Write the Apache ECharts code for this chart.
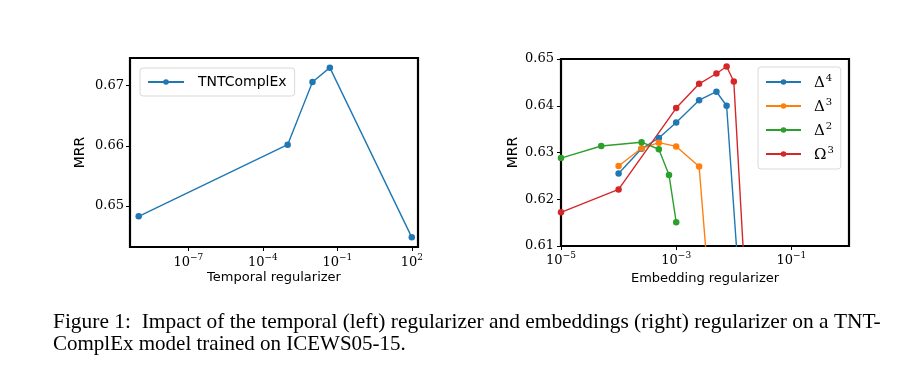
<!DOCTYPE html>
<html>
<head>
<meta charset="utf-8">
<script src="https://cdn.jsdelivr.net/npm/echarts@6/dist/echarts.min.js"></script>
<style>
  html, body { margin: 0; padding: 0; background: #fff; }
  #main { width: 923px; height: 381px; }
</style>
</head>
<body>
<div id="main"></div>
<script>
// left panel: temporal regularizer sweep
var tempReg = [1e-9, 1e-3, 1e-2, 5e-2, 1e2];
var tempMRR = [0.6483, 0.6602, 0.6706, 0.6730, 0.6448];
var tempXTicks = [1e-7, 1e-4, 1e-1, 1e2];
var tempYTicks = [0.65, 0.66, 0.67];

// right panel: embedding regularizer sweep (last points fall below the axis)
var seriesNames = ['Δ4', 'Δ3', 'Δ2', 'Ω3'];
var delta4X = [1e-4, 2.5e-4, 5e-4, 1e-3, 2.5e-3, 5e-3, 7.5e-3, 1.5e-2];
var delta4Y = [0.6255, 0.6308, 0.6331, 0.6364, 0.6412, 0.6430, 0.6400, 0.587];
var delta3X = [1e-4, 2.5e-4, 5e-4, 1e-3, 2.5e-3, 5e-3];
var delta3Y = [0.6271, 0.6309, 0.6321, 0.6313, 0.6270, 0.581];
var delta2X = [1e-5, 5e-5, 2.5e-4, 5e-4, 7.5e-4, 1e-3];
var delta2Y = [0.6288, 0.6314, 0.6322, 0.6307, 0.6252, 0.6151];
var omega3X = [1e-5, 1e-4, 1e-3, 2.5e-3, 5e-3, 7.5e-3, 1e-2, 2e-2];
var omega3Y = [0.6172, 0.6221, 0.6395, 0.6447, 0.6469, 0.6484, 0.6452, 0.579];
var embXTicks = [1e-5, 1e-3, 1e-1];

var colors = ['#1f77b4', '#ff7f0e', '#2ca02c', '#d62728'];
var serif = 'DejaVu Serif';
var sans = 'DejaVu Sans';

function zip(xs, ys) {
    return xs.map(function (x, i) { return [x, ys[i]]; });
}

// 10^n label with raised exponent
function powLabel(v) {
    var e = Math.round(Math.log10(v));
    return '{b|10}{s|' + (e < 0 ? '\u2212' + (-e) : e) + '}';
}
var powRich = {
    b: { fontFamily: serif, fontSize: 13, color: '#000', verticalAlign: 'bottom' },
    s: { fontFamily: serif, fontSize: 9, color: '#000', verticalAlign: 'bottom', padding: [0, 0, 7, 0] }
};

function lineSeries(name, data, xi, yi, color) {
    return {
        name: name,
        type: 'line',
        xAxisIndex: xi,
        yAxisIndex: yi,
        data: data,
        symbol: 'circle',
        symbolSize: 6.5,
        clip: true,
        color: color,
        lineStyle: { width: 1.4, color: color },
        itemStyle: { color: color }
    };
}

var tickStyle = { show: true, inside: false, length: 4, lineStyle: { color: '#000', width: 1 } };

var option = {
    animation: false,
    backgroundColor: '#fff',
    grid: [
        { left: 130, top: 58, width: 288, height: 189, show: true, borderColor: '#000', borderWidth: 2.2, backgroundColor: 'transparent' },
        { left: 561, top: 59, width: 288, height: 187, show: true, borderColor: '#000', borderWidth: 2.2, backgroundColor: 'transparent' }
    ],
    xAxis: [
        {
            type: 'log', gridIndex: 0, logBase: 10,
            min: Math.pow(10, -9.35), max: Math.pow(10, 2.25),
            name: 'Temporal regularizer', nameLocation: 'middle', nameGap: 24,
            nameTextStyle: { fontFamily: sans, fontSize: 13, color: '#000' },
            axisLine: { show: false },
            axisTick: Object.assign({ customValues: tempXTicks }, tickStyle),
            axisLabel: { customValues: tempXTicks, formatter: powLabel, rich: powRich, margin: 6 },
            splitLine: { show: false }
        },
        {
            type: 'log', gridIndex: 1, logBase: 10,
            min: 1e-5, max: 1,
            name: 'Embedding regularizer', nameLocation: 'middle', nameGap: 26,
            nameTextStyle: { fontFamily: sans, fontSize: 13, color: '#000' },
            axisLine: { show: false },
            axisTick: Object.assign({ customValues: embXTicks }, tickStyle),
            axisLabel: { customValues: embXTicks, formatter: powLabel, rich: powRich, margin: 5 },
            splitLine: { show: false }
        }
    ],
    yAxis: [
        {
            type: 'value', gridIndex: 0,
            min: 0.6432, max: 0.6746,
            name: 'MRR', nameLocation: 'middle', nameGap: 43,
            nameTextStyle: { fontFamily: sans, fontSize: 14, color: '#000' },
            axisLine: { show: false },
            axisTick: Object.assign({ customValues: tempYTicks }, tickStyle),
            axisLabel: {
                customValues: tempYTicks, margin: 6,
                fontFamily: serif, fontSize: 13, color: '#000',
                formatter: function (v) { return v.toFixed(2); }
            },
            splitLine: { show: false }
        },
        {
            type: 'value', gridIndex: 1,
            min: 0.61, max: 0.65, interval: 0.01,
            name: 'MRR', nameLocation: 'middle', nameGap: 41,
            nameTextStyle: { fontFamily: sans, fontSize: 14, color: '#000' },
            axisLine: { show: false },
            axisTick: tickStyle,
            axisLabel: {
                margin: 7, fontFamily: serif, fontSize: 13, color: '#000',
                formatter: function (v) { return v.toFixed(2); }
            },
            splitLine: { show: false }
        }
    ],
    legend: [
        {
            data: ['TNTComplEx'],
            left: 140, top: 68,
            orient: 'vertical',
            padding: [7, 8, 7, 7],
            itemWidth: 36, itemHeight: 7,
            backgroundColor: '#fff',
            borderColor: '#d9d9d9', borderWidth: 1, borderRadius: 3,
            textStyle: { fontFamily: sans, fontSize: 14, color: '#000', padding: [0, 0, 0, 9] }
        },
        {
            data: seriesNames,
            left: 758, top: 67,
            orient: 'vertical',
            padding: [6, 7, 6, 7],
            itemWidth: 35, itemHeight: 7, itemGap: 6,
            backgroundColor: '#fff',
            borderColor: '#d9d9d9', borderWidth: 1, borderRadius: 3,
            formatter: function (name) {
                return '{b|' + name.charAt(0) + '}{s|' + name.slice(1) + '}';
            },
            textStyle: {
                padding: [0, 0, 0, 8],
                rich: {
                    b: { fontFamily: serif, fontSize: 15, color: '#000', verticalAlign: 'bottom', lineHeight: 18 },
                    s: { fontFamily: serif, fontSize: 10, color: '#000', verticalAlign: 'bottom', padding: [0, 0, 8, 1] }
                }
            }
        }
    ],
    series: [
        lineSeries('TNTComplEx', zip(tempReg, tempMRR), 0, 0, colors[0]),
        lineSeries(seriesNames[0], zip(delta4X, delta4Y), 1, 1, colors[0]),
        lineSeries(seriesNames[1], zip(delta3X, delta3Y), 1, 1, colors[1]),
        lineSeries(seriesNames[2], zip(delta2X, delta2Y), 1, 1, colors[2]),
        lineSeries(seriesNames[3], zip(omega3X, omega3Y), 1, 1, colors[3])
    ],
    graphic: [
        {
            type: 'text', left: 53, top: 312, scaleX: 1.02,
            style: {
                text: 'Figure 1:  Impact of the temporal (left) regularizer and embeddings (right) regularizer on a TNT-',
                font: '21px "Liberation Serif"', fill: '#000'
            }
        },
        {
            type: 'text', left: 53, top: 334,
            style: {
                text: 'ComplEx model trained on ICEWS05-15.',
                font: '21px "Liberation Serif"', fill: '#000'
            }
        }
    ]
};

var chart = echarts.init(document.getElementById('main'), null, { renderer: 'canvas' });
chart.setOption(option);
</script>
</body>
</html>
